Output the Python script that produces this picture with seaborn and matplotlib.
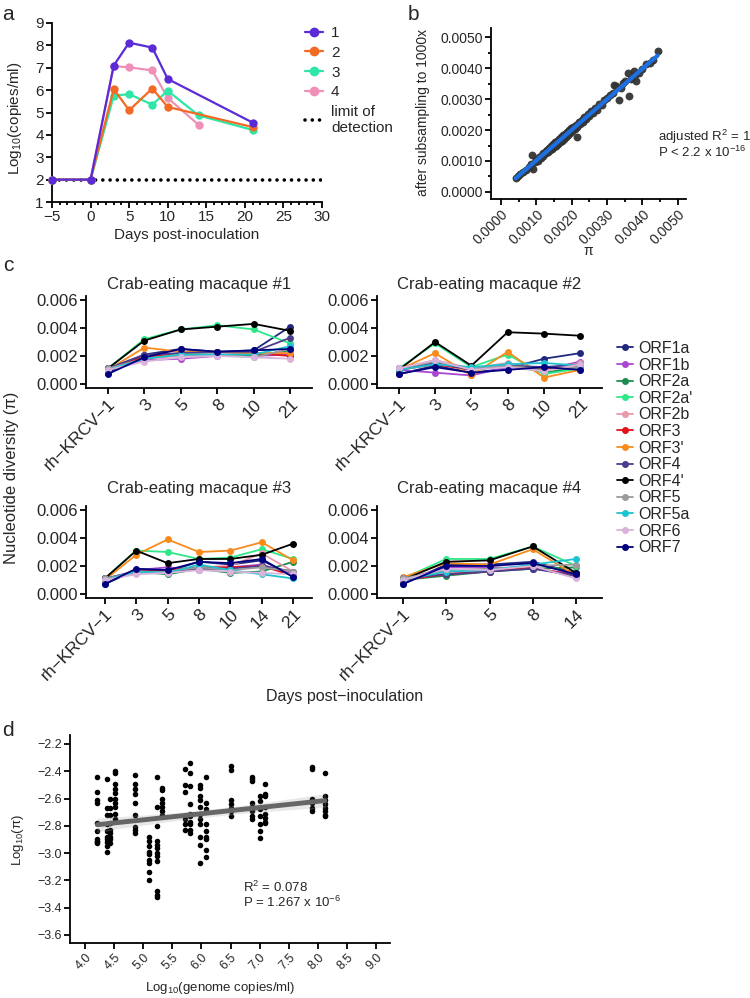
import pandas as pd
import seaborn as sns
import matplotlib.pyplot as plt
import numpy as np
from matplotlib.lines import Line2D
from matplotlib.ticker import MultipleLocator

sns.set_style('ticks')
plt.rcParams['font.family'] = ['Liberation Sans', 'DejaVu Sans']
plt.rcParams['mathtext.fontset'] = 'custom'
plt.rcParams['mathtext.rm'] = 'Liberation Sans'
plt.rcParams['mathtext.it'] = 'Liberation Sans:italic'
plt.rcParams['axes.unicode_minus'] = True

# ---- panel a: viral load ----
a_days_1 = [-5, 0, 3, 5, 8, 10, 21]
a_load_1 = [2, 2, 7.1, 8.12, 7.9, 6.5, 4.55]
a_days_2 = [-5, 0, 3, 5, 8, 10, 21]
a_load_2 = [2, 2, 6.05, 5.1, 6.07, 5.25, 4.35]
a_days_3 = [-5, 0, 3, 5, 8, 10, 14, 21]
a_load_3 = [2, 2, 5.75, 5.82, 5.35, 5.97, 4.87, 4.22]
a_days_4 = [-5, 0, 3, 5, 8, 10, 14]
a_load_4 = [2, 2, 7.07, 7.02, 6.88, 5.65, 4.45]
a_colors = {'1': '#5B2BD6', '2': '#F26A24', '3': '#2EE6A6', '4': '#F090B8'}
lod = 2

# ---- panel b: pi full vs subsampled ----
b_points = [
    (0.00042, 0.00046), (0.00048, 0.00050), (0.00055, 0.00058), (0.00062, 0.00065),
    (0.00070, 0.00072), (0.00078, 0.00080), (0.00085, 0.00090), (0.00088, 0.00118),
    (0.00090, 0.00074), (0.00095, 0.00098), (0.00100, 0.00104), (0.00104, 0.00101),
    (0.00108, 0.00112), (0.00112, 0.00110), (0.00115, 0.00120), (0.00118, 0.00116),
    (0.00120, 0.00126), (0.00123, 0.00121), (0.00126, 0.00131), (0.00128, 0.00125),
    (0.00131, 0.00137), (0.00134, 0.00130), (0.00136, 0.00142), (0.00139, 0.00135),
    (0.00142, 0.00147), (0.00145, 0.00140), (0.00148, 0.00155), (0.00150, 0.00146),
    (0.00153, 0.00160), (0.00156, 0.00150), (0.00158, 0.00165), (0.00161, 0.00156),
    (0.00164, 0.00170), (0.00167, 0.00162), (0.00170, 0.00178), (0.00172, 0.00166),
    (0.00175, 0.00183), (0.00178, 0.00172), (0.00181, 0.00188), (0.00184, 0.00178),
    (0.00187, 0.00194), (0.00190, 0.00184), (0.00193, 0.00199), (0.00196, 0.00190),
    (0.00199, 0.00205), (0.00202, 0.00197), (0.00205, 0.00211), (0.00208, 0.00202),
    (0.00212, 0.00217), (0.00216, 0.00211), (0.00216, 0.00177), (0.00220, 0.00226),
    (0.00224, 0.00218), (0.00228, 0.00234), (0.00232, 0.00226), (0.00236, 0.00242),
    (0.00240, 0.00235), (0.00245, 0.00251), (0.00250, 0.00244), (0.00255, 0.00261),
    (0.00260, 0.00255), (0.00266, 0.00271), (0.00272, 0.00266), (0.00278, 0.00284),
    (0.00285, 0.00281), (0.00292, 0.00297), (0.00300, 0.00304), (0.00308, 0.00312),
    (0.00316, 0.00320), (0.00320, 0.00346), (0.00325, 0.00343), (0.00334, 0.00298),
    (0.00340, 0.00337), (0.00345, 0.00352), (0.00352, 0.00360), (0.00360, 0.00385),
    (0.00363, 0.00310), (0.00368, 0.00366), (0.00375, 0.00390), (0.00380, 0.00378),
    (0.00382, 0.00358), (0.00390, 0.00386), (0.00400, 0.00398), (0.00410, 0.00412),
    (0.00420, 0.00418), (0.00430, 0.00428), (0.00443, 0.00456),
]

# ---- panel c: nucleotide diversity per ORF ----
orfs = ['ORF1a', 'ORF1b', 'ORF2a', "ORF2a'", 'ORF2b', 'ORF3', "ORF3'",
        'ORF4', "ORF4'", 'ORF5', 'ORF5a', 'ORF6', 'ORF7']
orf_colors = ['#22287E', '#A947D2', '#1E8B50', '#2EE889', '#E89AAB', '#E3111B', '#F88B1C',
              '#4B3C8E', '#000000', '#9B9B9B', '#1CC4D2', '#D9B3D9', '#00007F']

c1_days = ['rh\u2212KRCV\u22121', '3', '5', '8', '10', '21']
c1_pi = {
    'ORF1a':  [0.0008, 0.0021, 0.0025, 0.0023, 0.0024, 0.0041],
    'ORF1b':  [0.0010, 0.0017, 0.0018, 0.0020, 0.0020, 0.0021],
    'ORF2a':  [0.0010, 0.0019, 0.0021, 0.0021, 0.0020, 0.0024],
    "ORF2a'": [0.0011, 0.0032, 0.0039, 0.0042, 0.0039, 0.0029],
    'ORF2b':  [0.0010, 0.0018, 0.0020, 0.0021, 0.0022, 0.0022],
    'ORF3':   [0.0011, 0.0019, 0.0022, 0.0023, 0.0022, 0.0020],
    "ORF3'":  [0.0010, 0.0026, 0.0023, 0.0023, 0.0022, 0.0022],
    'ORF4':   [0.0011, 0.0021, 0.0022, 0.0023, 0.0023, 0.0033],
    "ORF4'":  [0.0011, 0.0031, 0.0039, 0.0041, 0.0043, 0.0038],
    'ORF5':   [0.0011, 0.0018, 0.0021, 0.0021, 0.0019, 0.0025],
    'ORF5a':  [0.0010, 0.0018, 0.0021, 0.0021, 0.0021, 0.0027],
    'ORF6':   [0.0010, 0.0016, 0.0019, 0.0020, 0.0019, 0.0018],
    'ORF7':   [0.0007, 0.0019, 0.0025, 0.0023, 0.0024, 0.0025],
}
c2_days = ['rh\u2212KRCV\u22121', '3', '5', '8', '10', '21']
c2_pi = {
    'ORF1a':  [0.0007, 0.0013, 0.0008, 0.0011, 0.0018, 0.0022],
    'ORF1b':  [0.0010, 0.0008, 0.0006, 0.0012, 0.0010, 0.0016],
    'ORF2a':  [0.0010, 0.0015, 0.0011, 0.0014, 0.0008, 0.0012],
    "ORF2a'": [0.0011, 0.0029, 0.0012, 0.0021, 0.0007, 0.0011],
    'ORF2b':  [0.0011, 0.0017, 0.0011, 0.0015, 0.0010, 0.0015],
    'ORF3':   [0.0010, 0.0014, 0.0010, 0.0013, 0.0011, 0.0012],
    "ORF3'":  [0.0010, 0.0022, 0.0006, 0.0023, 0.00045, 0.0010],
    'ORF4':   [0.0011, 0.0015, 0.0010, 0.0013, 0.0012, 0.0014],
    "ORF4'":  [0.0010, 0.0030, 0.0013, 0.0037, 0.0036, 0.00345],
    'ORF5':   [0.0011, 0.0016, 0.0011, 0.0013, 0.0010, 0.0012],
    'ORF5a':  [0.0010, 0.0014, 0.0012, 0.0014, 0.0015, 0.0013],
    'ORF6':   [0.0011, 0.0017, 0.0010, 0.0012, 0.0009, 0.0014],
    'ORF7':   [0.0007, 0.0012, 0.0008, 0.0010, 0.0012, 0.0010],
}
c3_days = ['rh\u2212KRCV\u22121', '3', '5', '8', '10', '14', '21']
c3_pi = {
    'ORF1a':  [0.0007, 0.0017, 0.0016, 0.0023, 0.0021, 0.0024, 0.0013],
    'ORF1b':  [0.0010, 0.0017, 0.0019, 0.0017, 0.0019, 0.0021, 0.0014],
    'ORF2a':  [0.0010, 0.0016, 0.0014, 0.0018, 0.0015, 0.0016, 0.0023],
    "ORF2a'": [0.0011, 0.0031, 0.0030, 0.0025, 0.0026, 0.0032, 0.0025],
    'ORF2b':  [0.0011, 0.0016, 0.0017, 0.0019, 0.0020, 0.0029, 0.0016],
    'ORF3':   [0.0010, 0.0016, 0.0017, 0.0019, 0.0019, 0.0020, 0.0013],
    "ORF3'":  [0.0010, 0.0028, 0.0039, 0.0030, 0.0031, 0.0037, 0.0024],
    'ORF4':   [0.0011, 0.0016, 0.0016, 0.0018, 0.0018, 0.0020, 0.0016],
    "ORF4'":  [0.0011, 0.0031, 0.0022, 0.0025, 0.0025, 0.0028, 0.0036],
    'ORF5':   [0.0011, 0.0015, 0.0016, 0.0019, 0.0017, 0.0019, 0.0016],
    'ORF5a':  [0.0010, 0.0016, 0.0015, 0.0021, 0.0017, 0.0014, 0.0011],
    'ORF6':   [0.0010, 0.0014, 0.0015, 0.0017, 0.0016, 0.0015, 0.0014],
    'ORF7':   [0.0007, 0.0018, 0.0017, 0.0023, 0.0022, 0.0025, 0.0012],
}
c4_days = ['rh\u2212KRCV\u22121', '3', '5', '8', '14']
c4_pi = {
    'ORF1a':  [0.0007, 0.0021, 0.0021, 0.0023, 0.0015],
    'ORF1b':  [0.0010, 0.0019, 0.0019, 0.0018, 0.0014],
    'ORF2a':  [0.0010, 0.0013, 0.0016, 0.0018, 0.0019],
    "ORF2a'": [0.0011, 0.0025, 0.0025, 0.0034, 0.0020],
    'ORF2b':  [0.0011, 0.0015, 0.0017, 0.0019, 0.0012],
    'ORF3':   [0.0010, 0.0014, 0.0016, 0.0019, 0.0013],
    "ORF3'":  [0.0012, 0.0022, 0.0021, 0.0032, 0.0013],
    'ORF4':   [0.0011, 0.0014, 0.0016, 0.0018, 0.0013],
    "ORF4'":  [0.0010, 0.0023, 0.0024, 0.0034, 0.0015],
    'ORF5':   [0.0011, 0.0017, 0.0018, 0.0020, 0.0021],
    'ORF5a':  [0.0010, 0.0016, 0.0017, 0.0021, 0.0025],
    'ORF6':   [0.0010, 0.0018, 0.0017, 0.0020, 0.0011],
    'ORF7':   [0.0007, 0.0020, 0.0020, 0.0022, 0.0014],
}
c_titles = ['Crab-eating macaque #1', 'Crab-eating macaque #2',
            'Crab-eating macaque #3', 'Crab-eating macaque #4']

# ---- panel d: log10 pi vs log10 genome copies ----
d_copies = [4.21, 4.37, 4.43, 4.52, 4.86, 5.10, 5.23, 5.32, 5.72, 5.81,
            5.98, 6.08, 6.50, 6.87, 7.01, 7.09, 7.90, 8.12]
d_logpi = [
    [-2.44, -2.55, -2.61, -2.63, -2.78, -2.84, -2.90, -2.91, -2.92, -2.93],
    [-2.46, -2.67, -2.72, -2.79, -2.84, -2.88, -2.90, -2.92, -2.95, -2.99],
    [-2.60, -2.67, -2.72, -2.78, -2.83, -2.85, -2.88, -2.90, -2.93],
    [-2.40, -2.41, -2.49, -2.53, -2.56, -2.60, -2.63, -2.66, -2.71, -2.75],
    [-2.43, -2.49, -2.53, -2.57, -2.63, -2.72, -2.81, -2.83, -2.85],
    [-2.88, -2.91, -2.95, -2.99, -3.01, -3.05, -3.07, -3.14, -3.20],
    [-2.44, -2.66, -2.80, -2.91, -2.94, -2.96, -3.00, -3.02, -3.06, -3.28, -3.31, -3.32],
    [-2.52, -2.54, -2.60, -2.63, -2.66, -2.69, -2.72],
    [-2.38, -2.50, -2.55, -2.75, -2.79, -2.83],
    [-2.34, -2.41, -2.51, -2.64, -2.71, -2.73, -2.77, -2.79, -2.83, -2.85],
    [-2.50, -2.52, -2.58, -2.61, -2.66, -2.71, -2.75, -2.79, -2.88, -2.94, -3.07],
    [-2.44, -2.63, -2.68, -2.79, -2.84, -2.88, -2.90, -2.98, -3.03],
    [-2.36, -2.39, -2.61, -2.64, -2.67, -2.69, -2.73],
    [-2.44, -2.46, -2.47, -2.63, -2.66, -2.69, -2.73, -2.75],
    [-2.58, -2.62, -2.68, -2.73, -2.79, -2.84, -2.89],
    [-2.49, -2.57, -2.58, -2.66, -2.71, -2.74, -2.77, -2.78],
    [-2.37, -2.38, -2.60, -2.63, -2.67, -2.69],
    [-2.41, -2.58, -2.61, -2.64, -2.67, -2.69, -2.72, -2.73],
]

W, H = 750, 998
fig = plt.figure(figsize=(W / 100, H / 100), dpi=100)


def box(x0, y0, x1, y1):
    # pixel box (top-left origin) -> figure fraction rect
    return [x0 / W, 1 - y1 / H, (x1 - x0) / W, (y1 - y0) / H]


def ftext(x, y, s, **kw):
    fig.text(x / W, 1 - y / H, s, **kw)


def style_axis(ax, lw):
    sns.despine(ax=ax)
    for sp in ['left', 'bottom']:
        ax.spines[sp].set_linewidth(lw)
        ax.spines[sp].set_color('black')
    ax.tick_params(which='major', width=lw, length=4, color='black', pad=2)
    ax.tick_params(which='minor', width=lw, length=2.5, color='black')


# panel a
ax_a = fig.add_axes(box(52, 23, 322, 202))
rows = []
for name, dd, ll in [('1', a_days_1, a_load_1), ('2', a_days_2, a_load_2),
                     ('3', a_days_3, a_load_3), ('4', a_days_4, a_load_4)]:
    for d, v in zip(dd, ll):
        rows.append({'animal': name, 'day': d, 'load': v})
df_a = pd.DataFrame(rows)
ax_a.axhline(lod, color='black', lw=2.6, ls=(0, (0.01, 2.0)), dash_capstyle='round', zorder=1)
sns.lineplot(data=df_a, x='day', y='load', hue='animal', hue_order=['4', '3', '2', '1'],
             palette=a_colors, marker='o', markersize=6, markeredgewidth=0, linewidth=1.6,
             legend=False, clip_on=False, zorder=3, ax=ax_a)
ax_a.set_xlim(-5, 30)
ax_a.set_ylim(1, 9)
ax_a.set_xticks(range(-5, 31, 5))
ax_a.set_yticks(range(1, 10))
ax_a.xaxis.set_minor_locator(MultipleLocator(1))
ax_a.set_xlabel('Days post-inoculation', fontsize=11, labelpad=3)
ax_a.set_ylabel('')
style_axis(ax_a, 1.3)
ax_a.tick_params(labelsize=11)
ftext(15, 118, 'Log$_{10}$(copies/ml)', rotation=90, ha='center', va='center', fontsize=11)
a_handles = [Line2D([], [], color=a_colors[k], marker='o', markersize=6, lw=1.6) for k in ['1', '2', '3', '4']]
a_handles.append(Line2D([], [], color='black', lw=2.6, ls=(0, (0.01, 2.0)), dash_capstyle='round'))
fig.legend(a_handles, ['1', '2', '3', '4', 'limit of\ndetection'], loc='upper left',
           bbox_to_anchor=(305 / W, 1 - 26 / H), frameon=False, fontsize=11,
           handlelength=1.2, handletextpad=0.5, labelspacing=0.38, borderpad=0, borderaxespad=0)
ftext(8, 15, 'a', fontsize=15, ha='center', va='center')

# panel b
ax_b = fig.add_axes(box(491, 28, 686, 199))
bx = [p[0] for p in b_points]
by = [p[1] for p in b_points]
sns.regplot(x=bx, y=by, ci=None, ax=ax_b,
            scatter_kws=dict(color='#333333', s=32, alpha=0.95, linewidths=0),
            line_kws=dict(color='#1E6FE0', lw=3))
ax_b.set_xlim(-0.00028, 0.00523)
ax_b.set_ylim(-0.00023, 0.0053)
ax_b.set_xticks(np.arange(0, 0.0051, 0.001))
ax_b.set_yticks(np.arange(0, 0.0051, 0.001))
ax_b.xaxis.set_minor_locator(MultipleLocator(0.0005))
ax_b.yaxis.set_minor_locator(MultipleLocator(0.0005))
ax_b.set_xticklabels([f'{v:.4f}' for v in np.arange(0, 0.0051, 0.001)], rotation=45,
                     ha='right', rotation_mode='anchor', fontsize=10)
ax_b.set_yticklabels([f'{v:.4f}' for v in np.arange(0, 0.0051, 0.001)], fontsize=10)
style_axis(ax_b, 1.3)
ax_b.set_xlabel('')
ftext(588, 251, '\u03c0', ha='center', va='center', fontsize=10)
ftext(423, 112, 'after subsampling to 1000x', rotation=90, ha='center', va='center', fontsize=10)
ftext(658, 137, 'adjusted R$^2$ = 1', ha='left', va='center', fontsize=9.5)
ftext(658, 152, 'P < 2.2 x 10$^{-16}$', ha='left', va='center', fontsize=9.5)
ftext(413, 15, 'b', fontsize=15, ha='center', va='center')

# panel c
c_boxes = [box(86, 296, 312, 388), box(377, 296, 602, 388),
           box(86, 506, 312, 598), box(377, 506, 602, 598)]
c_title_y = [284, 284, 489, 489]
for i, (days, pis) in enumerate([(c1_days, c1_pi), (c2_days, c2_pi),
                                  (c3_days, c3_pi), (c4_days, c4_pi)]):
    ax = fig.add_axes(c_boxes[i])
    rows = []
    for orf in orfs:
        for j, v in enumerate(pis[orf]):
            rows.append({'orf': orf, 'pos': j, 'pi': v})
    df_c = pd.DataFrame(rows)
    sns.lineplot(data=df_c, x='pos', y='pi', hue='orf', hue_order=orfs, palette=orf_colors,
                 marker='o', markersize=5, markeredgewidth=0, linewidth=1.3,
                 legend=False, errorbar=None, ax=ax)
    ax.set_xlim(-0.6, len(days) - 0.4)
    ax.set_ylim(-0.0003, 0.0063)
    ax.set_xticks(range(len(days)))
    ax.set_xticklabels(days, rotation=45, ha='right', rotation_mode='anchor', fontsize=12.5)
    ax.set_yticks([0, 0.002, 0.004, 0.006])
    ax.set_yticklabels(['0.000', '0.002', '0.004', '0.006'], fontsize=12)
    ax.set_xlabel('')
    ax.set_ylabel('')
    style_axis(ax, 1.3)
    x0 = c_boxes[i][0] + c_boxes[i][2] / 2
    fig.text(x0, 1 - c_title_y[i] / H, c_titles[i], ha='center', va='center', fontsize=12)
c_handles = [Line2D([], [], color=c, marker='o', markersize=4, lw=1.3) for c in orf_colors]
fig.legend(c_handles, orfs, loc='upper left', bbox_to_anchor=(617 / W, 1 - 341 / H),
           frameon=False, fontsize=11.5, handlelength=1.0, handletextpad=0.35,
           labelspacing=0.1, borderpad=0, borderaxespad=0)
ftext(12, 478, 'Nucleotide diversity (\u03c0)', rotation=90, ha='center', va='center', fontsize=12)
ftext(345, 697, 'Days post\u2212inoculation', ha='center', va='center', fontsize=11.5)
ftext(8, 266, 'c', fontsize=15, ha='center', va='center')

# panel d
ax_d = fig.add_axes(box(70, 735, 390, 943))
dx, dy = [], []
for xv, ys in zip(d_copies, d_logpi):
    dx += [xv] * len(ys)
    dy += ys
sns.regplot(x=dx, y=dy, ax=ax_d,
            scatter_kws=dict(color='black', s=16, linewidths=0, alpha=1),
            line_kws=dict(color='#666666', lw=3.5))
ax_d.set_xlim(3.74, 9.24)
ax_d.set_ylim(-3.66, -2.134)
ax_d.set_xticks(np.arange(4.0, 9.01, 0.5))
ax_d.set_xticklabels([f'{v:.1f}' for v in np.arange(4.0, 9.01, 0.5)], rotation=45,
                     ha='right', rotation_mode='anchor', fontsize=9)
ax_d.set_yticks(np.arange(-3.6, -2.19, 0.2))
ax_d.set_yticklabels([f'{v:.1f}'.replace('-', '\u2212') for v in np.arange(-3.6, -2.19, 0.2)], fontsize=9)
style_axis(ax_d, 1.3)
ftext(220, 988, 'Log$_{10}$(genome copies/ml)', ha='center', va='center', fontsize=9.5)
ftext(18, 840, 'Log$_{10}$(\u03c0)', rotation=90, ha='center', va='center', fontsize=9.5)
ftext(243, 887, 'R$^2$ = 0.078', ha='left', va='center', fontsize=9.5)
ftext(243, 902, 'P = 1.267 x 10$^{-6}$', ha='left', va='center', fontsize=9.5)
ftext(8, 730, 'd', fontsize=15, ha='center', va='center')

fig.savefig('out.png', dpi=100)
